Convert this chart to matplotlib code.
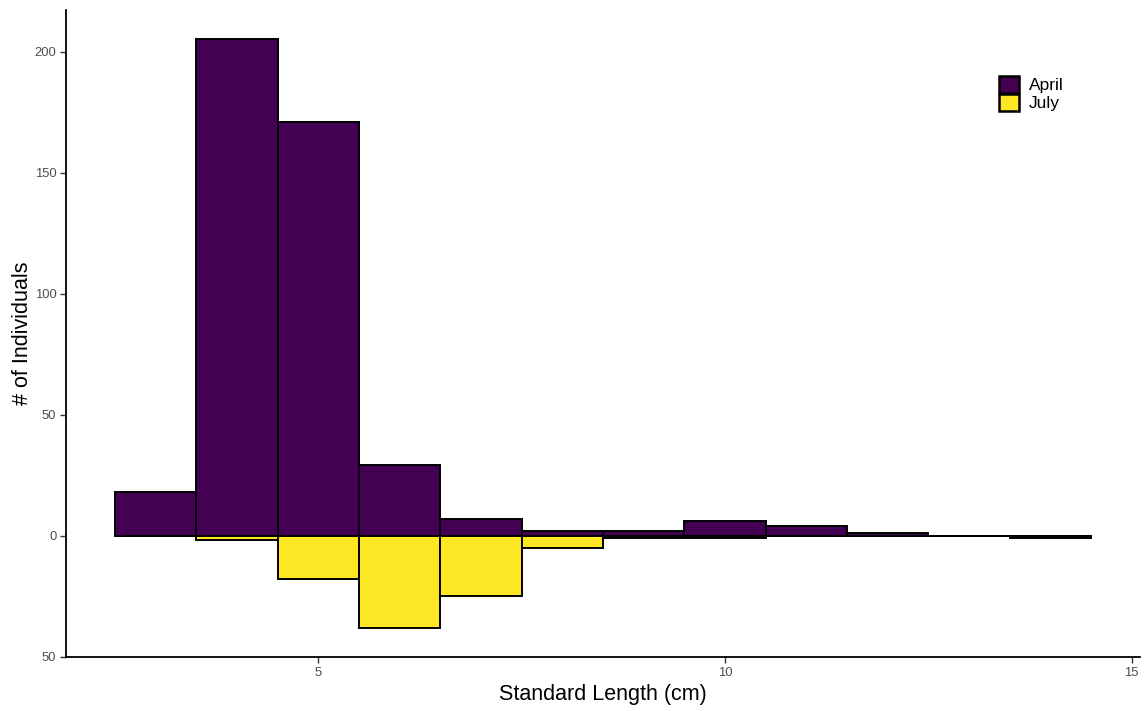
import numpy as np
import matplotlib.pyplot as plt
from matplotlib.patches import Patch

# bin centres (cm) and counts per bin
length_bins = [3, 4, 5, 6, 7, 8, 9, 10, 11, 12, 13, 14]
april_counts = [18, 205, 171, 29, 7, 2, 2, 6, 4, 1, 0, 0]
july_counts = [0, 2, 18, 38, 25, 5, 1, 1, 0, 0, 0, 1]

plt.rcParams['font.family'] = ['Liberation Sans', 'DejaVu Sans']

fig = plt.figure(figsize=(11.46, 7.11), dpi=100)
ax = fig.add_axes([0.0576, 0.076, 0.937, 0.910])

purple = '#440154'
yellow = '#FDE725'

ax.bar(length_bins, april_counts, width=1.0, color=purple, edgecolor='black', linewidth=1.4)
ax.bar(length_bins, -np.array(july_counts), width=1.0, color=yellow, edgecolor='black', linewidth=1.4)

ax.set_xlim(1.9, 15.1)
ax.set_ylim(-50.15, 217.2)
ax.set_xticks([5, 10, 15])
ax.set_yticks([-50, 0, 50, 100, 150, 200])
ax.set_yticklabels(['50', '0', '50', '100', '150', '200'])

for s in ['top', 'right']:
    ax.spines[s].set_visible(False)
for s in ['left', 'bottom']:
    ax.spines[s].set_linewidth(1.3)
ax.tick_params(axis='both', labelsize=9.4, labelcolor='#4D4D4D', color='#333333',
               length=4, width=1.0, pad=3)

ax.set_xlabel('Standard Length (cm)', fontsize=15.5, labelpad=4)
ax.set_ylabel('# of Individuals', fontsize=15.5, labelpad=1)

handles = [Patch(facecolor=purple, edgecolor='black', linewidth=1.8, label='April'),
           Patch(facecolor=yellow, edgecolor='black', linewidth=1.8, label='July')]
fig.legend(handles=handles, loc='upper left', bbox_to_anchor=(0.864, 0.906),
           frameon=False, fontsize=12.5, handlelength=1.15, handleheight=1.15,
           labelspacing=0.05, handletextpad=0.6, borderpad=0)

fig.savefig('out.png', dpi=100)
